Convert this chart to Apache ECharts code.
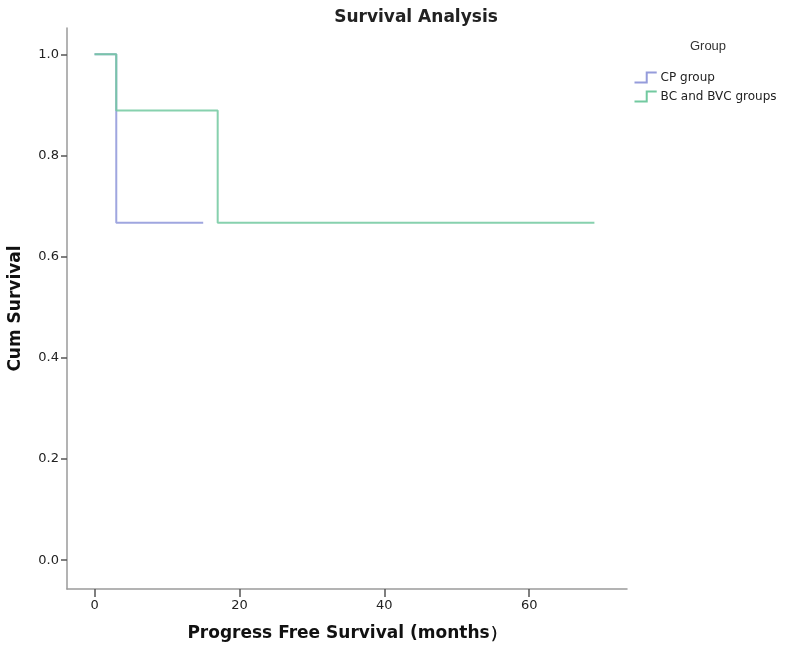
<!DOCTYPE html>
<html>
<head>
<meta charset="utf-8">
<script src="https://cdn.jsdelivr.net/npm/echarts@6/dist/echarts.min.js"></script>
<style>html,body{margin:0;padding:0;background:#fff;}#c{width:800px;height:656px;}</style>
</head>
<body>
<div id="c"></div>
<script>
// Data (Kaplan-Meier step points: time in months, cumulative survival)
const seriesNames = ['CP group', 'BC and BVC groups'];
const cpTime = [0, 3, 15];
const cpSurv = [1.0, 0.667, 0.667];
const bcTime = [0, 3, 17, 69];
const bcSurv = [1.0, 0.889, 0.667, 0.667];
const xTicks = [0, 20, 40, 60];
const yTicks = [0.0, 0.2, 0.4, 0.6, 0.8, 1.0];

const pair = (t, s) => t.map((v, i) => [v, s[i]]);
const FONT = '"DejaVu Sans", Arial, sans-serif';
const FONT2 = '"Liberation Sans", Arial, sans-serif';
const stepIcon = 'path://M0,10 L11,10 L11,1 L20,1';

const chart = echarts.init(document.getElementById('c'), null, {renderer: 'canvas'});
chart.setOption({
  backgroundColor: '#fff',
  animation: false,
  title: [
    {text: 'Survival Analysis', left: 411, top: 4, textAlign: 'center',
     textStyle: {fontFamily: FONT, fontSize: 17, fontWeight: 'bold', color: '#222'}},
    {text: 'Group', left: 703, top: 35, textAlign: 'center',
     textStyle: {fontFamily: FONT2, fontSize: 13, fontWeight: 'normal', color: '#333'}}
  ],
  legend: {
    orient: 'vertical', left: 632, top: 70, padding: 0, itemWidth: 24, itemHeight: 10, itemGap: 4,
    icon: stepIcon,
    textStyle: {fontFamily: FONT, fontSize: 12, color: '#222', padding: [0,0,0,-2]},
    data: seriesNames.map(n => ({name: n}))
  },
  grid: {left: 67, right: 173, top: 28, bottom: 67, containLabel: false, outerBoundsMode: 'none'},
  xAxis: {
    type: 'value', min: -3.8, max: 73.5,
    name: 'Progress Free Survival (months）', nameLocation: 'middle', nameGap: 36,
    nameTextStyle: {fontFamily: FONT, fontSize: 17, fontWeight: 'bold', color: '#111'},
    axisLine: {onZero: false, lineStyle: {color: '#9a9a9a', width: 1.5}},
    axisTick: {customValues: xTicks, length: 8, lineStyle: {color: '#555', width: 1.5}},
    axisLabel: {customValues: xTicks, fontFamily: FONT, fontSize: 13, color: '#222', margin: 10},
    splitLine: {show: false}
  },
  yAxis: {
    type: 'value', min: -0.057, max: 1.052,
    name: 'Cum Survival', nameLocation: 'middle', nameGap: 43,
    nameTextStyle: {fontFamily: FONT, fontSize: 17, fontWeight: 'bold', color: '#111'},
    axisLine: {onZero: false, lineStyle: {color: '#9a9a9a', width: 1.5}},
    axisTick: {customValues: yTicks, length: 6, lineStyle: {color: '#555', width: 1.5}},
    axisLabel: {customValues: yTicks, fontFamily: FONT, fontSize: 13, color: '#222', margin: 8,
      formatter: v => v.toFixed(1)},
    splitLine: {show: false}
  },
  series: [
    {name: seriesNames[0], type: 'line', step: 'end', data: pair(cpTime, cpSurv),
     showSymbol: false, symbol: 'none', color: '#959cdb',
     lineStyle: {width: 2, color: '#959cdb', opacity: 0.9},
     itemStyle: {color: 'none', borderColor: '#959cdb', borderWidth: 1.5}},
    {name: seriesNames[1], type: 'line', step: 'end', data: pair(bcTime, bcSurv),
     showSymbol: false, symbol: 'none', color: '#72c9a0',
     lineStyle: {width: 2, color: '#72c9a0', opacity: 0.85},
     itemStyle: {color: 'none', borderColor: '#72c9a0', borderWidth: 1.5}}
  ]
});
</script>
</body>
</html>
